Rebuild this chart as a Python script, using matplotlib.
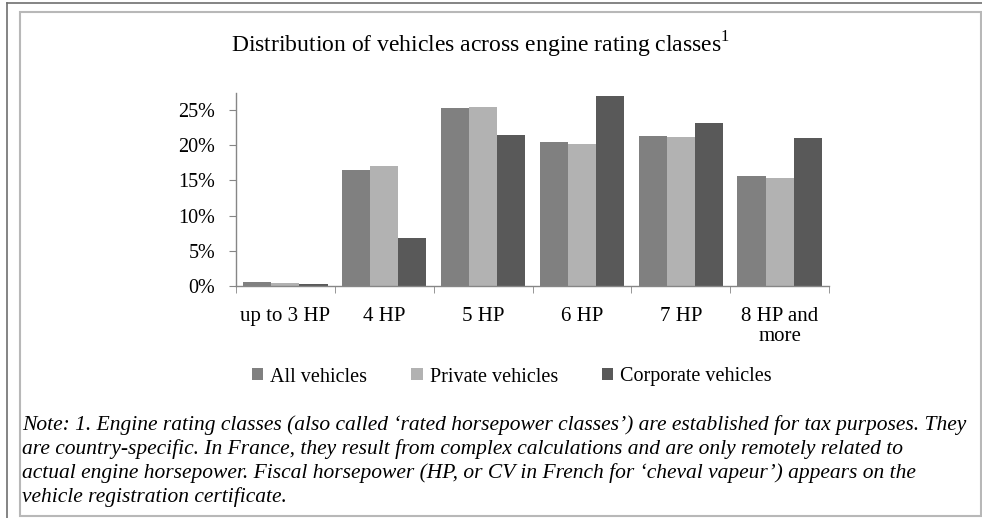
import numpy as np
import matplotlib
matplotlib.use('Agg')
import matplotlib.pyplot as plt
from matplotlib.lines import Line2D
from matplotlib.patches import Rectangle

# Data (percent of vehicles)
categories = ['up to 3 HP', '4 HP', '5 HP', '6 HP', '7 HP', '8 HP and\nmore']
all_vehicles = [0.5, 16.5, 25.2, 20.5, 21.3, 15.6]
private_vehicles = [0.45, 17.0, 25.4, 20.1, 21.2, 15.4]
corporate_vehicles = [0.3, 6.8, 21.4, 27.0, 23.1, 21.0]
series_names = ['All vehicles', 'Private vehicles', 'Corporate vehicles']
y_ticks = [0, 5, 10, 15, 20, 25]

colors = ['#808080', '#b2b2b2', '#595959']

plt.rcParams['font.family'] = ['Liberation Serif', 'DejaVu Serif']
plt.rcParams['mathtext.fontset'] = 'custom'
plt.rcParams['mathtext.rm'] = 'Liberation Serif'

W, H = 982, 518
fig = plt.figure(figsize=(W / 100, H / 100), dpi=100)

# helpers: pixel position -> figure fraction
def fx(x):
    return x / W

def fy(y):
    return 1 - y / H

# frame lines
fig.add_artist(Line2D([fx(7), fx(982)], [fy(3), fy(3)], color='#707070', lw=1.2))
fig.add_artist(Line2D([fx(7), fx(7)], [fy(3), fy(518)], color='#707070', lw=1.2))
fig.add_artist(Rectangle((fx(20), fy(516)), fx(981) - fx(20), fy(12) - fy(516),
                         fill=False, edgecolor='#b8b8b8', lw=1.5))

ax = fig.add_axes([fx(236), fy(286), fx(829) - fx(236), fy(93) - fy(286)])

x = np.arange(len(categories))
bw = 0.284
for i, vals in enumerate([all_vehicles, private_vehicles, corporate_vehicles]):
    ax.bar(x + (i - 1) * bw, vals, width=bw, color=colors[i], label=series_names[i], zorder=2)

ax.set_xlim(-0.5, len(categories) - 0.5)
ax.set_ylim(0, 27.4)
ax.set_yticks(y_ticks)
ax.set_yticklabels([f'{v}%' for v in y_ticks], fontsize=14.5)
ax.set_xticks(x)
ax.set_xticklabels(categories, fontsize=15, linespacing=1.1)
ax.tick_params(axis='x', length=0, pad=15)
ax.tick_params(axis='y', length=5, color='#868686', pad=10)
# category boundary ticks
ax.set_xticks(np.arange(len(categories) + 1) - 0.5, minor=True)
ax.tick_params(axis='x', which='minor', length=5, color='#868686')

for s in ['top', 'right']:
    ax.spines[s].set_visible(False)
for s in ['left', 'bottom']:
    ax.spines[s].set_color('#868686')
    ax.spines[s].set_linewidth(1)

fig.text(fx(480), fy(45), 'Distribution of vehicles across engine rating classes$^{\\mathrm{1}}$',
         ha='center', va='center', fontsize=17)

leg = fig.legend(loc='center', bbox_to_anchor=(fx(512), fy(377)), ncol=3, frameon=False,
                 fontsize=14.5, handlelength=0.55, handleheight=0.55, handletextpad=0.35,
                 columnspacing=2.2)

note = ("Note: 1. Engine rating classes (also called \u2018rated horsepower classes\u2019) are established for tax purposes. They\n"
        "are country-specific. In France, they result from complex calculations and are only remotely related to\n"
        "actual engine horsepower. Fiscal horsepower (HP, or CV in French for \u2018cheval vapeur\u2019) appears on the\n"
        "vehicle registration certificate.")
fig.text(fx(22), fy(415), note, ha='left', va='top', fontsize=15.5, style='italic', linespacing=1.28)

fig.savefig('out.png', dpi=100)
